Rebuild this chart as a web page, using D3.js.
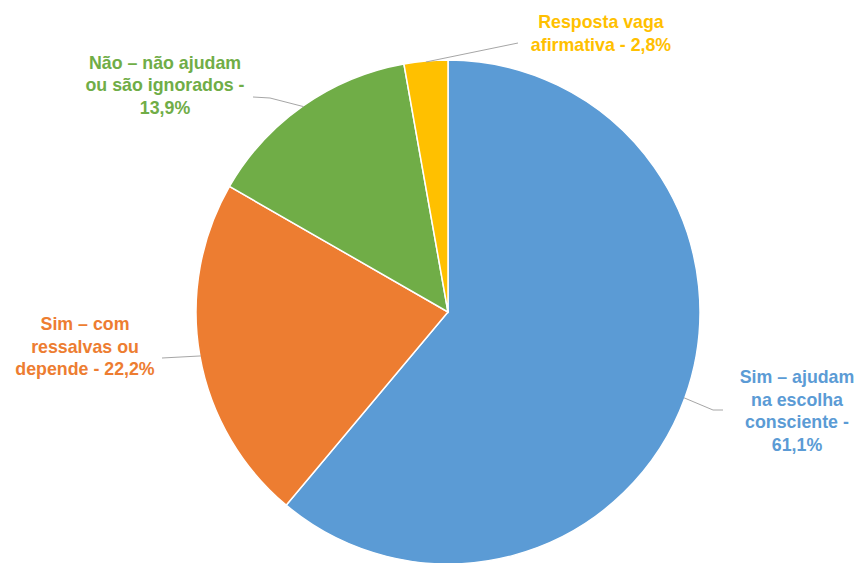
<!DOCTYPE html>
<html>
<head>
<meta charset="utf-8">
<script src="https://cdn.jsdelivr.net/npm/d3@7"></script>
<style>
  html, body { margin: 0; padding: 0; background: #fff; }
  svg { display: block; }
  text { font-family: "Liberation Sans", Arial, sans-serif; font-weight: bold; }
</style>
</head>
<body>
<svg id="chart" width="861" height="563"></svg>
<script>
// Data
const categories = [
  "Sim – ajudam na escolha consciente",
  "Sim – com ressalvas ou depende",
  "Não – não ajudam ou são ignorados",
  "Resposta vaga afirmativa"
];
const values = [61.1, 22.2, 13.9, 2.8];
const valueLabels = ["61,1%", "22,2%", "13,9%", "2,8%"];
const labelLines = [
  ["Sim – ajudam", "na escolha", "consciente -", "61,1%"],
  ["Sim – com", "ressalvas ou", "depende - 22,2%"],
  ["Não – não ajudam", "ou são ignorados -", "13,9%"],
  ["Resposta vaga", "afirmativa - 2,8%"]
];

// Styles / layout
const colors = ["#5B9BD5", "#ED7D31", "#70AD47", "#FFC000"];
const cx = 448, cy = 312, R = 252;
const fontSize = 17.8, lineH = 22.5;
// label layout: elbow and end of leader (relative to center), text block center
const layout = [
  { elbow: [265, 98], end: [275, 98], text: [349, 99] },
  { elbow: [-286, 46], end: [-286, 46], text: [-363, 34.5] },
  { elbow: [-178, -214], end: [-195, -215], text: [-283, -227] },
  { elbow: [70, -269], end: [70, -269], text: [153, -278.5] }
];

const svg = d3.select("#chart");
const g = svg.append("g").attr("transform", `translate(${cx},${cy})`);

const pie = d3.pie().sort(null).value(d => d)(values);
const arc = d3.arc().innerRadius(0).outerRadius(R);

g.selectAll("path.slice")
  .data(pie)
  .join("path")
  .attr("class", "slice")
  .attr("d", arc)
  .attr("fill", (d, i) => colors[i])
  .attr("stroke", "#fff")
  .attr("stroke-width", 1.5);

// leader lines
pie.forEach((d, i) => {
  const mid = (d.startAngle + d.endAngle) / 2;
  const sx = Math.sin(mid) * (R - 1), sy = -Math.cos(mid) * (R - 1);
  const L = layout[i];
  g.append("polyline")
    .attr("points", [[sx, sy], L.elbow, L.end].map(p => p.join(",")).join(" "))
    .attr("fill", "none")
    .attr("stroke", "#a6a6a6")
    .attr("stroke-width", 1);
});

// labels
labelLines.forEach((lines, i) => {
  const L = layout[i];
  const n = lines.length;
  const t = g.append("text")
    .attr("text-anchor", "middle")
    .attr("font-size", fontSize)
    .attr("fill", colors[i]);
  lines.forEach((ln, k) => {
    t.append("tspan")
      .attr("x", L.text[0])
      .attr("y", L.text[1] + (k - (n - 1) / 2) * lineH + fontSize * 0.35)
      .text(ln);
  });
});
</script>
</body>
</html>
